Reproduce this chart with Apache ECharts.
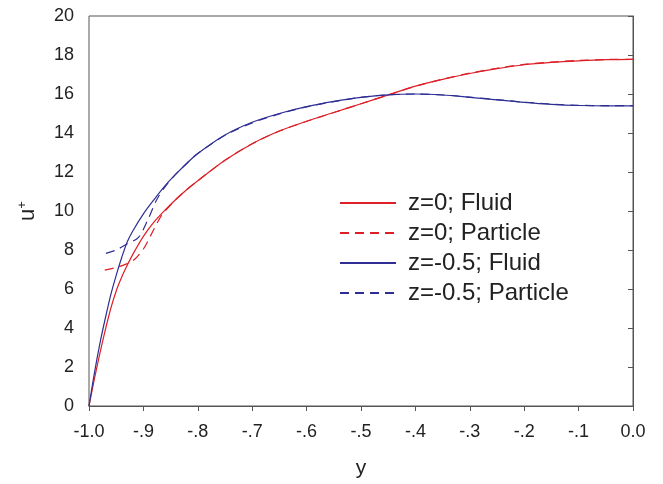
<!DOCTYPE html>
<html>
<head>
<meta charset="utf-8">
<script src="https://cdn.jsdelivr.net/npm/echarts@6/dist/echarts.min.js"></script>
<style>html,body{margin:0;padding:0;background:#fff}#c{width:663px;height:484px}</style>
</head>
<body>
<div id="c"></div>
<script>
const xTickLabels = ['-1.0','-.9','-.8','-.7','-.6','-.5','-.4','-.3','-.2','-.1','0.0'];
const yTickLabels = ['0','2','4','6','8','10','12','14','16','18','20'];
const seriesNames = ['z=0; Fluid','z=0; Particle','z=-0.5; Fluid','z=-0.5; Particle'];

const redFluidX = [-1,-0.99,-0.98,-0.97,-0.96,-0.95,-0.94,-0.93,-0.92,-0.9,-0.88,-0.86,-0.84,-0.82,-0.8,-0.75,-0.7,-0.65,-0.6,-0.55,-0.5,-0.45,-0.4,-0.35,-0.3,-0.25,-0.2,-0.15,-0.1,-0.05,0];
const redFluidY = [0,1.4,2.7,3.9,5.0,5.9,6.6,7.2,7.75,8.7,9.45,10.05,10.6,11.1,11.55,12.6,13.45,14.1,14.6,15.05,15.5,15.95,16.4,16.75,17.05,17.3,17.5,17.62,17.7,17.76,17.78];

const redPartX = [-0.971,-0.95,-0.93,-0.915,-0.9,-0.891,-0.88,-0.866,-0.85,-0.84,-0.82,-0.8,-0.75,-0.7,-0.65,-0.6,-0.55,-0.5,-0.45,-0.4,-0.35,-0.3,-0.25,-0.2,-0.15,-0.1,-0.05,0];
const redPartY = [6.97,7.1,7.3,7.55,8.05,8.5,9.1,9.8,10.3,10.6,11.1,11.55,12.6,13.45,14.1,14.6,15.05,15.5,15.95,16.4,16.76,17.07,17.32,17.52,17.64,17.72,17.77,17.78];

const blueFluidX = [-1,-0.99,-0.98,-0.97,-0.96,-0.95,-0.94,-0.93,-0.92,-0.9,-0.88,-0.86,-0.84,-0.82,-0.8,-0.75,-0.7,-0.65,-0.6,-0.55,-0.5,-0.45,-0.4,-0.35,-0.3,-0.25,-0.2,-0.15,-0.1,-0.05,0];
const blueFluidY = [0,1.7,3.2,4.5,5.7,6.7,7.6,8.4,8.95,9.85,10.6,11.3,11.9,12.45,12.95,13.9,14.55,15.0,15.35,15.62,15.83,15.96,16.0,15.95,15.83,15.7,15.57,15.47,15.41,15.39,15.39];

const bluePartX = [-0.969,-0.95,-0.931,-0.909,-0.891,-0.876,-0.86,-0.84,-0.82,-0.8,-0.75,-0.7,-0.65,-0.6,-0.55,-0.5,-0.45,-0.4,-0.35,-0.3,-0.25,-0.2,-0.15,-0.1,-0.05,0];
const bluePartY = [7.83,8.0,8.3,8.65,9.6,10.55,11.25,11.9,12.45,12.95,13.88,14.52,14.98,15.34,15.61,15.83,15.96,16.0,15.95,15.84,15.71,15.58,15.48,15.42,15.4,15.4];

const zip = (xs, ys) => xs.map((x, i) => [x, ys[i]]);
const RED = '#dd1f26', BLUE = '#2e2e94';
const FONT = 'Liberation Sans, Arial, sans-serif';

const chart = echarts.init(document.getElementById('c'), null, {renderer: 'canvas'});
const axisText = {color: '#222', fontSize: 18, fontFamily: FONT};

const mk = (i, data, color, dashed) => ({
  name: seriesNames[i], type: 'line', data, showSymbol: false, symbol: 'none', smooth: 0.3,
  lineStyle: {color, width: 1.2, type: dashed ? [9, 6] : 'solid'}, itemStyle: {color}
});

chart.setOption({
  animation: false,
  backgroundColor: '#fff',
  grid: {left: 89, right: 30, top: 16, bottom: 76, show: true, borderColor: '#555', borderWidth: 1, containLabel: false},
  legend: {
    orient: 'vertical', left: 334, top: 186,
    itemWidth: 56, itemHeight: 14, itemGap: 6,
    itemStyle: {opacity: 0},
    textStyle: {color: '#222', fontSize: 24, fontFamily: FONT, padding: [0,0,0,7]},
    data: seriesNames
  },
  xAxis: {
    type: 'value', min: -1, max: 0, interval: 0.1,
    name: 'y', nameLocation: 'middle', nameGap: 52,
    nameTextStyle: {color: '#222', fontSize: 21, fontFamily: FONT},
    axisLine: {show: true, lineStyle: {color: '#555'}},
    axisTick: {show: true, inside: false, length: 5, lineStyle: {color: '#555'}},
    splitLine: {show: false},
    axisLabel: {...axisText, margin: 17, formatter: v => xTickLabels[Math.round((v + 1) * 10)]}
  },
  yAxis: {
    type: 'value', min: 0, max: 20, interval: 2,
    name: 'u{s|+}', nameLocation: 'middle', nameGap: 50, nameRotate: 90,
    nameTextStyle: {color: '#222', fontSize: 22, fontFamily: FONT,
      rich: {s: {fontSize: 13, verticalAlign: 'top', padding: [0,0,10,0], color: '#222', fontFamily: FONT}}},
    axisLine: {show: true, lineStyle: {color: '#555'}},
    axisTick: {show: true, inside: false, length: 5, lineStyle: {color: '#555'}},
    splitLine: {show: false},
    axisLabel: {...axisText, margin: 15, formatter: v => yTickLabels[Math.round(v / 2)]}
  },
  series: [
    mk(0, zip(redFluidX, redFluidY), RED, false),
    mk(1, zip(redPartX, redPartY), RED, true),
    mk(2, zip(blueFluidX, blueFluidY), BLUE, false),
    mk(3, zip(bluePartX, bluePartY), BLUE, true)
  ]
});
</script>
</body>
</html>
